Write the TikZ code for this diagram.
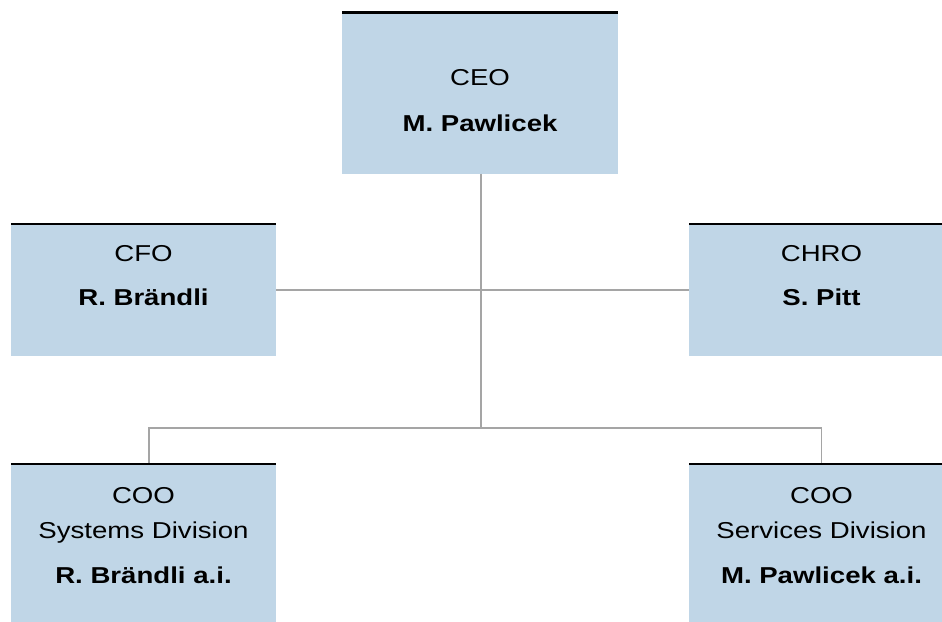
\documentclass[tikz,border=0pt]{standalone}
\usepackage{fontspec}
\setmainfont[FakeStretch=1.2]{Liberation Sans}
\begin{document}
\begin{tikzpicture}[x=1pt,y=-1pt]
\definecolor{boxblue}{RGB}{192,214,231}
\definecolor{linegray}{RGB}{165,165,165}
\tikzset{
  orgbox/.style={fill=boxblue, draw=none, inner sep=0pt, outer sep=0pt, anchor=north west},
  lbl/.style={anchor=base, inner sep=0pt, font=\fontsize{23}{27}\selectfont},
  person/.style={anchor=base, inner sep=0pt, font=\fontsize{23}{27}\selectfont\bfseries},
  conn/.style={draw=linegray, line width=1.3pt},
  topline/.style={line width=2.6pt, draw=black}
}
\useasboundingbox (0,0) rectangle (942,621);
\clip (0,0) rectangle (942,621);
% boxes
\node[orgbox, minimum width=276pt, minimum height=161pt] (ceo) at (342,12.7) {};
\node[orgbox, minimum width=265pt, minimum height=132pt] (cfo) at (11,224) {};
\node[orgbox, minimum width=265pt, minimum height=132pt] (chro) at (689,224) {};
\node[orgbox, minimum width=265pt, minimum height=170pt] (coo1) at (11,464) {};
\node[orgbox, minimum width=265pt, minimum height=170pt] (coo2) at (689,464) {};
% connectors
\coordinate (busc) at (481,428);
\draw[conn] (ceo.south -| busc) -- (busc);
\draw[conn] (cfo.east) -- (chro.west);
\draw[conn] ([xshift=5.5pt]coo1.north) |- (busc) -| (coo2.north);
% top borders
\foreach \b in {ceo,cfo,chro,coo1,coo2}{
  \draw[topline] (\b.north west) -- (\b.north east);
}
% texts
\node[lbl] (ceot) at (480,85) {CEO};
\node[person] (ceon) at (480,131) {M. Pawlicek};
\node[lbl] (cfot) at (143.5,261) {CFO};
\node[person] (cfon) at (143.5,305) {R. Brändli};
\node[lbl] (chrot) at (821.5,261) {CHRO};
\node[person] (chron) at (821.5,305) {S. Pitt};
\node[lbl] (coo1t) at (143.5,503) {COO};
\node[lbl] (coo1d) at (143.5,538) {Systems Division};
\node[person] (coo1n) at (143.5,583) {R. Brändli a.i.};
\node[lbl] (coo2t) at (821.5,503) {COO};
\node[lbl] (coo2d) at (821.5,538) {Services Division};
\node[person] (coo2n) at (821.5,583) {M. Pawlicek a.i.};
\end{tikzpicture}
\end{document}
